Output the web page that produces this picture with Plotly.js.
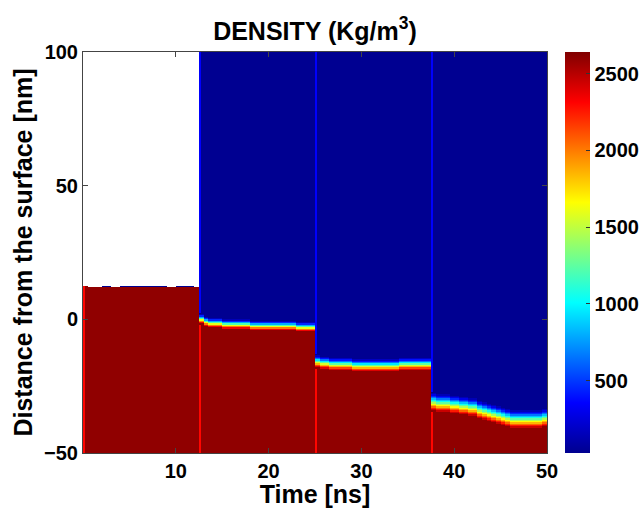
<!DOCTYPE html>
<html>
<head>
<meta charset="utf-8">
<script src="https://cdn.plot.ly/plotly-3.0.1.min.js"></script>
<style>html,body{margin:0;padding:0;background:#fff;}#chart{width:641px;height:508px;}</style>
</head>
<body>
<div id="chart"></div>
<script>
// ---- data ----
const segStart = [0, 12.5, 25, 37.5];          // ns, start of each simulation stage
const bulkDensity = 2600;                      // kg/m3, solid
const vacuumDensity = 35;                      // kg/m3, above the surface
const edgeRedDensity = 2300;                   // stage-boundary column, solid part
const edgeBlueDensity = 350;                   // stage-boundary column, vacuum part
const zMin = 30, zMax = 2640;

// surface position (nm) sampled every 0.5 ns, 25 samples per stage
const seg1Top = [12.3, 12, 12, 12, 12, 12, 12, 12, 12, 12, 12, 12, 12, 12, 12, 12, 12, 12, 12, 12, 12, 12, 12, 12, 12];
const seg1Cap = [null, null, null, null, 35, 35, null, null, 35, 35, 35, 35, 35, 35, 35, 35, 35, 35, null, null, 35, 35, 35, 35, null];
const seg2Surface = [0.2, -0.6, -1.0, -1.2, -1.35, -1.5, -1.6, -1.7, -1.8, -1.85, -1.9, -2.0, -2.05, -2.1, -2.15, -2.2, -2.25, -2.3, -2.35, -2.4, -2.45, -2.5, -2.5, -2.55, -2.6];
const seg3Surface = [-15.5, -16.3, -16.4, -16.5, -16.6, -16.7, -16.8, -16.9, -17.0, -17.2, -17.25, -17.3, -17.3, -17.3, -17.3, -17.2, -17.1, -17.0, -16.9, -16.7, -16.6, -16.5, -16.5, -16.5, -16.6];
const seg4Surface = [-30.8, -31.2, -31.3, -31.4, -31.6, -31.8, -32.0, -32.2, -32.5, -32.9, -33.5, -34.1, -34.7, -35.3, -35.9, -36.4, -36.8, -37.1, -37.3, -37.4, -37.4, -37.3, -37.2, -37.0, -36.9];

// density across the interface (every 0.5 nm, from solid side to vacuum side)
const seg2Profile = [2600, 2350, 2000, 1600, 1200, 800, 450, 150, 35];
const seg3Profile = [2600, 2400, 2150, 1850, 1550, 1250, 950, 650, 400, 180, 35];
const seg4Profile = [2600, 2450, 2250, 2050, 1850, 1650, 1450, 1250, 1050, 850, 650, 450, 280, 140, 35];

const surfaces = [seg1Top, seg2Surface, seg3Surface, seg4Surface];
const profiles = [null, seg2Profile, seg3Profile, seg4Profile];

const xTicks = [10, 20, 30, 40, 50];
const yTicks = [-50, 0, 50, 100];
const cbTicks = [500, 1000, 1500, 2000, 2500];

// ---- grid ----
const yEdges = [];
for (let r = 0; r <= 300; r++) yEdges.push(-50 + 0.5 * r);
const xEdges = [];
segStart.forEach(t0 => {
  xEdges.push(t0, t0 + 0.2);
  for (let i = 1; i < 25; i++) xEdges.push(t0 + 0.5 * i);
});
xEdges.push(50);

function cell(k, c, yc) {
  const isEdge = c === 0;
  const si = Math.max(0, c - 1);
  const s = surfaces[k][si];
  if (k === 0) {
    if (yc < s) return isEdge ? edgeRedDensity : bulkDensity;
    if (yc < s + 0.5) return isEdge ? null : seg1Cap[si];
    return null;
  }
  const P = profiles[k];
  const n = P.length;
  const idx = Math.floor((yc - s) / 0.5 + n / 2);
  if (idx < 0) return isEdge ? edgeRedDensity : bulkDensity;
  if (idx >= n) return isEdge ? edgeBlueDensity : vacuumDensity;
  return P[idx];
}

const z = [];
for (let r = 0; r < 300; r++) {
  const yc = yEdges[r] + 0.25;
  const row = [];
  for (let k = 0; k < 4; k++) for (let c = 0; c < 26; c++) row.push(cell(k, c, yc));
  z.push(row);
}

const jet = [[0, 'rgb(0,0,143)'], [0.125, 'rgb(0,0,255)'], [0.375, 'rgb(0,255,255)'],
             [0.625, 'rgb(255,255,0)'], [0.875, 'rgb(255,0,0)'], [1, 'rgb(128,0,0)']];

const trace = {
  type: 'heatmap', x: xEdges, y: yEdges, z: z,
  zmin: zMin, zmax: zMax, colorscale: jet, hoverinfo: 'skip',
  colorbar: {
    thickness: 25, thicknessmode: 'pixels', len: 1, lenmode: 'fraction',
    x: 1.0388, xanchor: 'left', y: 0.5, yanchor: 'middle', xpad: 0, ypad: 0,
    outlinewidth: 0, ticks: 'inside', ticklen: 4, tickcolor: '#333',
    tickvals: cbTicks, ticktext: cbTicks.map(String),
    tickfont: {size: 20, weight: 'bold', family: 'Liberation Sans, Arial, sans-serif', color: '#000'}
  }
};

const axisCommon = {
  showgrid: false, zeroline: false, showline: true, linecolor: '#444', linewidth: 1,
  mirror: 'ticks', ticks: 'inside', ticklen: 5, tickcolor: '#444',
  tickfont: {size: 20, weight: 'bold'}
};

const layout = {
  width: 641, height: 508,
  margin: {l: 83, r: 94, t: 52, b: 55, autoexpand: false},
  paper_bgcolor: '#fff', plot_bgcolor: '#fff',
  font: {family: 'Liberation Sans, Arial, sans-serif', size: 20, color: '#000', weight: 'bold'},
  title: {text: 'DENSITY (Kg/m<sup>3</sup>)', font: {size: 25, weight: 'bold'},
          x: 0.5, xref: 'paper', xanchor: 'center', y: 1 - 31 / 508, yref: 'container', yanchor: 'middle'},
  xaxis: Object.assign({}, axisCommon, {range: [0, 50], tickvals: xTicks, automargin: false,
          title: {text: 'Time [ns]', font: {size: 25, weight: 'bold'}, standoff: 4}}),
  yaxis: Object.assign({}, axisCommon, {range: [-50, 100], tickvals: yTicks, automargin: false,
          title: {text: 'Distance from the surface [nm]', font: {size: 25, weight: 'bold'}, standoff: 4}})
};

Plotly.newPlot('chart', [trace], layout, {displayModeBar: false, staticPlot: true});
</script>
</body>
</html>
